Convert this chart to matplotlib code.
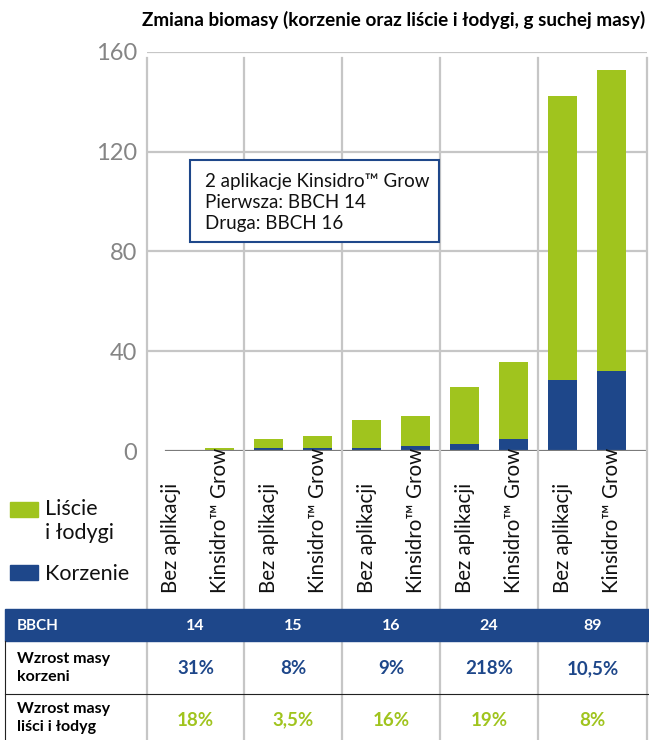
import numpy as np
import matplotlib.pyplot as plt
from matplotlib.patches import Rectangle
from matplotlib.transforms import blended_transform_factory

plt.rcParams['font.family'] = ['Lato', 'DejaVu Sans']

# data
bbch = ['14', '15', '16', '24', '89']
treatments = ['Bez aplikacji', 'Kinsidro™ Grow']
roots = [0.03, 0.3, 1.2, 1.2, 1.2, 1.9, 3.0, 5.0, 28.4, 32.0]
leaves = [0.1, 1.0, 3.6, 4.9, 11.2, 12.1, 22.6, 30.6, 114.0, 120.8]
root_gain = ['31%', '8%', '9%', '218%', '10,5%']
leaf_gain = ['18%', '3,5%', '16%', '19%', '8%']
yticks = [0, 40, 80, 120, 160]

green = '#a0c41e'
blue = '#1e478a'
grid_c = '#c6c6c6'

W, H = 649, 740
fig = plt.figure(figsize=(W / 100, H / 100), dpi=100)

# chart area in pixels
L, R, T, B = 147, 647, 52, 451
ax = fig.add_axes([L / W, (H - B) / H, (R - L) / W, (B - T) / H])

x = np.arange(len(roots))
xmin, xmax = -0.48, 9.72
ax.bar(x, roots, width=0.59, color=blue, zorder=2)
ax.bar(x, leaves, bottom=roots, width=0.59, color=green, zorder=2)
ax.set_xlim(xmin, xmax)
ax.set_ylim(0, 160)
ax.set_yticks(yticks)
ax.set_xticks([])
ax.yaxis.grid(True, color=grid_c, lw=1.6, zorder=0)
ax.get_ygridlines()[0].set_visible(False)
ax.tick_params(axis='y', length=0, pad=7, labelsize=17, labelcolor='#858585')
for s in ax.spines.values():
    s.set_visible(False)
ax.axhline(0, xmin=19 / (R - L), xmax=1, color='#7b7b7b', lw=2.3, zorder=3)

# overlay in pixel coordinates
ov = fig.add_axes([0, 0, 1, 1], zorder=5)
ov.set_xlim(0, W)
ov.set_ylim(H, 0)
ov.axis('off')

ppu = (R - L) / (xmax - xmin)
def px(v):
    return L + (v - xmin) * ppu

# group separators (run down into the table)
seps = [L] + [px(g * 2 + 1.5) for g in range(len(bbch) - 1)] + [R]
for s in seps:
    ov.plot([s, s], [T + 6, H], color=grid_c, lw=1.6, zorder=1)

# rotated category labels
tr = blended_transform_factory(ax.transData, ov.transData)
for i in x:
    ax.text(i, 593, treatments[i % 2], transform=tr, rotation=90,
            ha='center', va='bottom', fontsize=14.8, color='#111111',
            clip_on=False)

# title
fig.text(645 / W, 1 - 20 / H,
         'Zmiana biomasy (korzenie oraz liście i łodygi, g suchej masy)',
         ha='right', va='center', fontsize=13.6, fontweight='bold')

# annotation box
ov.add_patch(Rectangle((190, 160), 249, 82, facecolor='white',
                       edgecolor=blue, lw=1.5, zorder=6))
for k, line in enumerate(['2 aplikacje Kinsidro™ Grow',
                          'Pierwsza: BBCH 14', 'Druga: BBCH 16']):
    ov.text(205, 181 + k * 21.5, line, ha='left', va='center',
            fontsize=13.5, color='#111111', zorder=7)

# legend
ov.add_patch(Rectangle((10, 502), 28, 15, color=green))
ov.add_patch(Rectangle((10, 565), 28, 15, color=blue))
ov.text(45, 521, 'Liście\ni łodygi', ha='left', va='center', fontsize=15.5,
        linespacing=1.2, color='#111111')
ov.text(45, 574, 'Korzenie', ha='left', va='center', fontsize=15.5,
        color='#111111')

# table
ov.add_patch(Rectangle((5, 609), W - 5, 32, color=blue, zorder=3))
ov.plot([5, 5], [641, H], color='#222222', lw=0.8, zorder=3)
ov.plot([5, W], [694, 694], color='#222222', lw=0.8, zorder=3)
ov.text(17, 626, 'BBCH', ha='left', va='center', color='white',
        fontsize=11, fontweight='bold', zorder=4)
ov.text(17, 668, 'Wzrost masy\nkorzeni', ha='left', va='center',
        fontsize=11.5, fontweight='bold', linespacing=1.3, zorder=4)
ov.text(17, 718, 'Wzrost masy\nliści i łodyg', ha='left', va='center',
        fontsize=11.5, fontweight='bold', linespacing=1.3, zorder=4)
for g in range(len(bbch)):
    cx = (seps[g] + seps[g + 1]) / 2
    ov.text(cx, 626, bbch[g], ha='center', va='center', color='white',
            fontsize=11.5, fontweight='bold', zorder=4)
    ov.text(cx, 669, root_gain[g], ha='center', va='center', color=blue,
            fontsize=13.5, fontweight='bold', zorder=4)
    ov.text(cx, 720, leaf_gain[g], ha='center', va='center', color=green,
            fontsize=13.5, fontweight='bold', zorder=4)

fig.savefig('out.png', dpi=100)
